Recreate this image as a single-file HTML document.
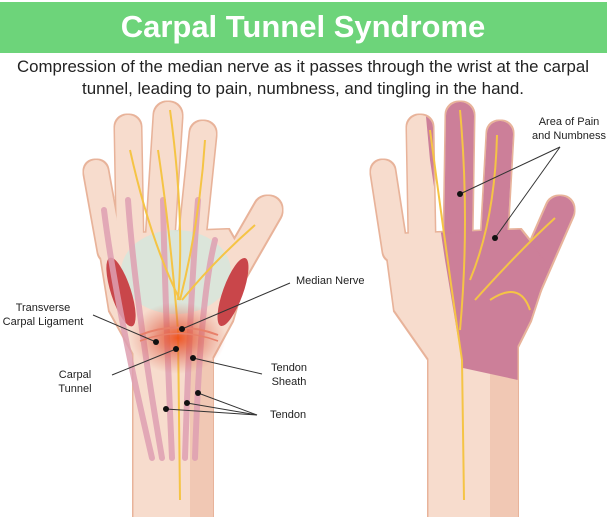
<!DOCTYPE html>
<html><head><meta charset="utf-8"><style>
html,body{margin:0;padding:0;background:#fff;}
svg{display:block;}
text{font-family:"Liberation Sans",sans-serif;}
</style></head><body>
<svg width="607" height="517" viewBox="0 0 607 517" xmlns="http://www.w3.org/2000/svg">
<defs>
<filter id="ol" x="-10%" y="-10%" width="120%" height="120%">
  <feMorphology in="SourceAlpha" operator="dilate" radius="1.6" result="d"/>
  <feFlood flood-color="#e8b39a"/>
  <feComposite in2="d" operator="in" result="o"/>
  <feMerge><feMergeNode in="o"/><feMergeNode in="SourceGraphic"/></feMerge>
</filter>
<g id="lh">
  <line x1="110" y1="250" x2="96" y2="172" stroke-width="24" stroke-linecap="round"/>
  <line x1="130" y1="240" x2="128" y2="128" stroke-width="26" stroke-linecap="round"/>
  <line x1="160" y1="240" x2="168" y2="116" stroke-width="28" stroke-linecap="round"/>
  <line x1="192" y1="240" x2="203" y2="134" stroke-width="26" stroke-linecap="round"/>
  <line x1="222" y1="290" x2="268" y2="210" stroke-width="28" stroke-linecap="round"/>
  <polygon points="98,235 228,230 248,265 232,320 212,357 136,357 110,310"/>
  <rect x="134" y="340" width="78" height="180"/>
</g>
<g id="rh">
  <line x1="395" y1="250" x2="383" y2="172" stroke-width="24" stroke-linecap="round"/>
  <line x1="422" y1="240" x2="420" y2="128" stroke-width="26" stroke-linecap="round"/>
  <line x1="458" y1="240" x2="460" y2="116" stroke-width="28" stroke-linecap="round"/>
  <line x1="494" y1="240" x2="500" y2="134" stroke-width="26" stroke-linecap="round"/>
  <line x1="525" y1="290" x2="560" y2="210" stroke-width="28" stroke-linecap="round"/>
  <polygon points="385,235 520,230 548,265 530,320 510,360 430,360 395,310"/>
  <rect x="429" y="345" width="88" height="180"/>
</g>
<clipPath id="pc"><polygon points="424,95 620,95 620,380 518,380 463,368 445,260 430,160"/></clipPath>
<radialGradient id="glow" cx="0.5" cy="0.5" r="0.5">
  <stop offset="0" stop-color="#f0501a" stop-opacity="0.95"/>
  <stop offset="0.45" stop-color="#e05a40" stop-opacity="0.55"/>
  <stop offset="1" stop-color="#e07060" stop-opacity="0"/>
</radialGradient>
</defs>

<rect x="0" y="2" width="607" height="51" fill="#6dd47a"/>
<text x="303" y="37" text-anchor="middle" font-size="31" font-weight="bold" fill="#fff">Carpal Tunnel Syndrome</text>
<text x="303" y="72" text-anchor="middle" font-size="17" fill="#222" textLength="572" lengthAdjust="spacingAndGlyphs">Compression of the median nerve as it passes through the wrist at the carpal</text>
<text x="303" y="94" text-anchor="middle" font-size="17" fill="#222" textLength="442" lengthAdjust="spacingAndGlyphs">tunnel, leading to pain, numbness, and tingling in the hand.</text>

<!-- left hand -->
<g filter="url(#ol)"><use href="#lh" fill="#f7dccd" stroke="#f7dccd"/></g>
<rect x="190" y="360" width="22" height="157" fill="#f1c8b4"/>
<ellipse cx="176" cy="272" rx="55" ry="42" fill="#d7e6dc" opacity="0.9"/>
<ellipse cx="121" cy="292" rx="10" ry="36" fill="#c9464a" transform="rotate(-18 121 292)"/>
<ellipse cx="233" cy="292" rx="10" ry="36" fill="#c9464a" transform="rotate(20 233 292)"/>
<g stroke="#dfa0b2" stroke-width="6" fill="none" stroke-linecap="round" opacity="0.85">
  <path d="M104,210 Q115,300 152,458"/>
  <path d="M128,200 Q135,300 162,458"/>
  <path d="M163,200 Q165,300 172,458"/>
  <path d="M198,200 Q190,300 185,458"/>
  <path d="M215,240 Q200,300 195,458"/>
</g>
<g stroke="#f5c445" stroke-width="2" fill="none">
  <path d="M180,500 L178,330 Q170,230 158,150"/>
  <path d="M178,300 Q185,220 170,110"/>
  <path d="M180,300 Q200,220 205,140"/>
  <path d="M182,300 Q215,260 255,225"/>
  <path d="M180,300 Q150,240 130,150"/>
</g>
<ellipse cx="178" cy="338" rx="48" ry="36" fill="url(#glow)"/>
<path d="M140,335 Q178,320 218,335" stroke="#e8806a" stroke-width="2" fill="none"/>
<path d="M140,341 Q178,326 218,341" stroke="#e8806a" stroke-width="1.5" fill="none"/>

<!-- right hand -->
<g filter="url(#ol)"><use href="#rh" fill="#f7dccd" stroke="#f7dccd"/></g>
<rect x="490" y="360" width="27" height="157" fill="#f1c8b4"/>
<g clip-path="url(#pc)"><use href="#rh" fill="#cc7f99" stroke="#cc7f99"/></g>
<g stroke="#f5c445" stroke-width="2" fill="none">
  <path d="M464,500 L462,360 Q450,280 430,130"/>
  <path d="M460,330 Q470,220 460,110"/>
  <path d="M470,280 Q495,220 497,135"/>
  <path d="M475,300 Q520,250 555,218"/>
  <path d="M490,300 Q520,280 530,310"/>
</g>

<!-- leader lines -->
<g stroke="#333" stroke-width="1" fill="none">
  <line x1="182" y1="329" x2="290" y2="283"/>
  <line x1="156" y1="342" x2="93" y2="315"/>
  <line x1="176" y1="349" x2="112" y2="375"/>
  <line x1="193" y1="358" x2="262" y2="374"/>
  <line x1="198" y1="393" x2="257" y2="415"/>
  <line x1="187" y1="403" x2="257" y2="415"/>
  <line x1="166" y1="409" x2="257" y2="415"/>
  <line x1="460" y1="194" x2="560" y2="147"/>
  <line x1="495" y1="238" x2="560" y2="147"/>
</g>
<g fill="#111">
  <circle cx="182" cy="329" r="3"/><circle cx="156" cy="342" r="3"/><circle cx="176" cy="349" r="3"/>
  <circle cx="193" cy="358" r="3"/><circle cx="198" cy="393" r="3"/><circle cx="187" cy="403" r="3"/>
  <circle cx="166" cy="409" r="3"/><circle cx="460" cy="194" r="3"/><circle cx="495" cy="238" r="3"/>
</g>
<g font-size="11" fill="#222">
  <text x="296" y="284">Median Nerve</text>
  <text x="43" y="311" text-anchor="middle">Transverse</text>
  <text x="43" y="325" text-anchor="middle">Carpal Ligament</text>
  <text x="75" y="378" text-anchor="middle">Carpal</text>
  <text x="75" y="392" text-anchor="middle">Tunnel</text>
  <text x="289" y="371" text-anchor="middle">Tendon</text>
  <text x="289" y="385" text-anchor="middle">Sheath</text>
  <text x="270" y="418">Tendon</text>
  <text x="569" y="125" text-anchor="middle">Area of Pain</text>
  <text x="569" y="139" text-anchor="middle">and Numbness</text>
</g>
</svg>
</body></html>
